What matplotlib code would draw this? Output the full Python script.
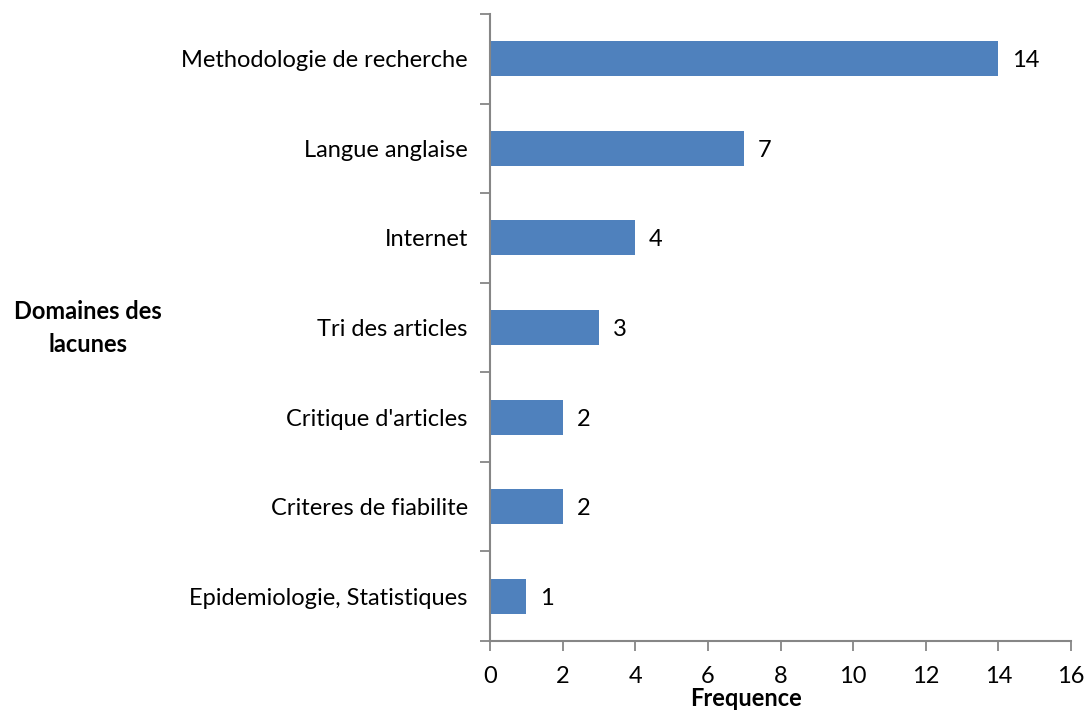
#!/usr/bin/env python3
"""Horizontal bar chart of knowledge gaps (domaines des lacunes)."""

import matplotlib

matplotlib.use("Agg")
import matplotlib.pyplot as plt

plt.rcParams["font.family"] = ["Lato", "DejaVu Sans"]

categories = [
    "Methodologie de recherche",
    "Langue anglaise",
    "Internet",
    "Tri des articles",
    "Critique d'articles",
    "Criteres de fiabilite",
    "Epidemiologie, Statistiques",
]
frequencies = [14, 7, 4, 3, 2, 2, 1]
x_ticks = [0, 2, 4, 6, 8, 10, 12, 14, 16]

BAR_COLOR = "#4F81BD"
AXIS_COLOR = "#868686"
FS = 17

fig = plt.figure(figsize=(10.9, 7.11), dpi=100)
ax = fig.add_axes([490 / 1090, 1 - 641 / 711, (1071 - 490) / 1090, (641 - 14) / 711])

# top category first
positions = list(range(len(categories)))[::-1]
ax.barh(positions, frequencies, height=0.39, color=BAR_COLOR, zorder=2)

for pos, val in zip(positions, frequencies):
    ax.annotate(
        f"{val}",
        (val, pos),
        xytext=(10, 0),
        textcoords="offset points",
        va="center_baseline",
        ha="left",
        fontsize=FS,
    )

ax.set_xlim(0, 16)
ax.set_ylim(-0.5, len(categories) - 0.5)
ax.set_xticks(x_ticks)
ax.set_xticklabels([str(t) for t in x_ticks], fontsize=FS)

# category labels on major ticks (no tick mark), boundaries on minor ticks
ax.set_yticks(positions)
ax.set_yticklabels(categories, fontsize=FS)
ax.set_yticks([p - 0.5 for p in range(len(categories) + 1)], minor=True)
ax.tick_params(axis="y", which="major", length=0, pad=16)
ax.tick_params(axis="y", which="minor", length=7, width=1.3, color=AXIS_COLOR)
ax.tick_params(axis="x", length=7, width=1.3, color=AXIS_COLOR, pad=11)

for side in ["top", "right"]:
    ax.spines[side].set_visible(False)
for side in ["left", "bottom"]:
    ax.spines[side].set_color(AXIS_COLOR)
    ax.spines[side].set_linewidth(1.5)

fig.text(746 / 1090, 1 - 698 / 711, "Frequence", ha="center", va="center",
         fontsize=FS, fontweight="bold")
fig.text(88 / 1090, 1 - 328 / 711, "Domaines des\nlacunes", ha="center",
         va="center", fontsize=FS, fontweight="bold", linespacing=1.5)

fig.savefig("out.png", dpi=100)
